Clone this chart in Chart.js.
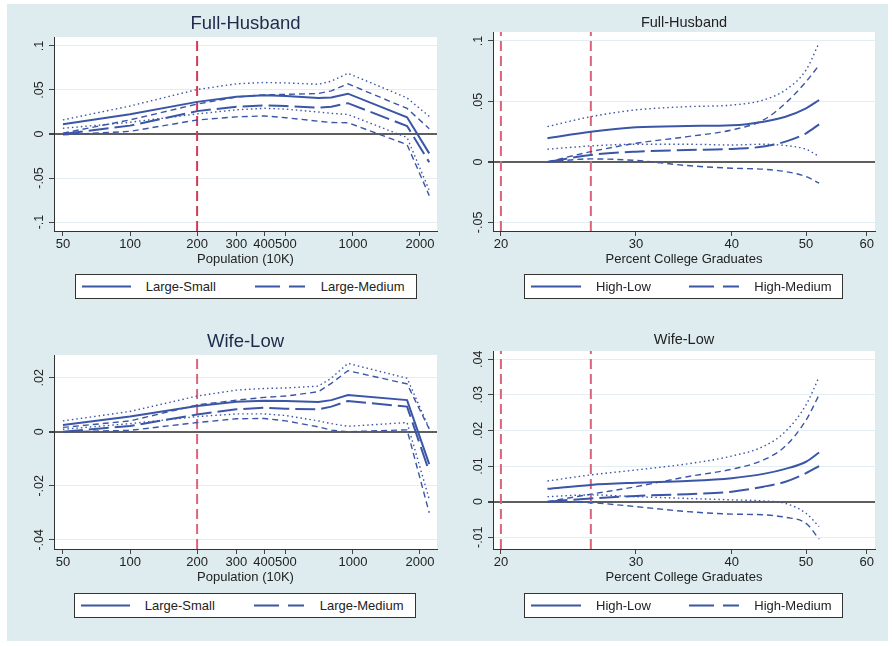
<!DOCTYPE html>
<html lang="en">
<head>
<meta charset="UTF-8">
<title>Full-Husband / Wife-Low</title>
<script src="https://cdn.jsdelivr.net/npm/chart.js"></script>
<style>
  body { margin: 0; background: #fff; font-family: "Liberation Sans", Arial, sans-serif; }
  #frame { position: absolute; left: 7px; top: 4px; width: 881px; height: 637px; background: #dfecef; }
  canvas { position: absolute; }
  .legend { position: absolute; height: 23px; border: 1px solid #333; background: #fff; font-size: 13px; color: #222; }
  .legend svg, .legend span { position: absolute; top: 0; }
  .legend span { line-height: 23px; white-space: nowrap; }
</style>
</head>
<body>
<div id="frame"></div>
<canvas id="tl" width="440" height="306" style="left:7px;top:4px"></canvas>
<canvas id="tr" width="440" height="306" style="left:447px;top:4px"></canvas>
<canvas id="bl" width="440" height="321" style="left:7px;top:320px"></canvas>
<canvas id="br" width="440" height="321" style="left:447px;top:320px"></canvas>

<script>
// x values (population in 10K, log axis) and percent college graduates (log axis)
const popX = [50, 100, 200, 300, 400, 500, 700, 800, 950, 1750, 2200];
const popTicks = [50, 100, 200, 300, 400, 500, 1000, 2000];
const popCut = [200];
const gradX = [23, 26.2, 30, 35, 40, 44, 47, 50, 52];
const gradTicks = [20, 30, 40, 50, 60];
const gradCut = [20, 26.2];

const popLegend = ['Large-Small', 'Large-Medium'];
const gradLegend = ['High-Low', 'High-Medium'];

// Full-Husband, by population
const fhLS   = [0.011, 0.0224, 0.0365, 0.0424, 0.0440, 0.0432, 0.0408, 0.0415, 0.0458, 0.019, -0.022];
const fhLM   = [0.000, 0.0095, 0.0260, 0.0310, 0.0325, 0.0318, 0.0300, 0.0310, 0.0350, 0.009, -0.032];
const fhLSup = [0.016, 0.0318, 0.0505, 0.0570, 0.0585, 0.0580, 0.0565, 0.0600, 0.0690, 0.041, 0.020];
const fhLSlo = [0.0065, 0.0133, 0.0228, 0.0275, 0.0292, 0.0282, 0.0250, 0.0235, 0.0222, -0.004, -0.064];
const fhLMup = [0.001, 0.0160, 0.0340, 0.0420, 0.0445, 0.0450, 0.0460, 0.0490, 0.0570, 0.029, 0.006];
const fhLMlo = [-0.001, 0.0030, 0.0159, 0.0195, 0.0205, 0.0185, 0.0145, 0.0130, 0.0128, -0.012, -0.070];

// Wife-Low, by population
const wlLS   = [0.0025, 0.0056, 0.0095, 0.0111, 0.0115, 0.0114, 0.0110, 0.0117, 0.0136, 0.0117, -0.012];
const wlLM   = [0.000, 0.0021, 0.0064, 0.0083, 0.0089, 0.0085, 0.0083, 0.0093, 0.0114, 0.0093, -0.0148];
const wlLSup = [0.004, 0.0075, 0.0132, 0.0154, 0.0160, 0.0162, 0.0169, 0.0198, 0.0253, 0.0198, 0.0012];
const wlLSlo = [0.0009, 0.0030, 0.0056, 0.0066, 0.0066, 0.0060, 0.0040, 0.0030, 0.0020, 0.0034, -0.025];
const wlLMup = [0.0016, 0.0040, 0.0099, 0.0117, 0.0127, 0.0132, 0.0148, 0.0179, 0.0226, 0.0177, 0.001];
const wlLMlo = [0.000, 0.0005, 0.0034, 0.0048, 0.0049, 0.0040, 0.0018, 0.0006, 0.0000, 0.0007, -0.030];

// Full-Husband, by percent college graduates
const fhHL   = [0.0196, 0.0250, 0.0287, 0.0297, 0.0303, 0.0333, 0.0374, 0.0443, 0.0512];
const fhHM   = [0.0000, 0.0058, 0.0085, 0.0099, 0.0107, 0.0127, 0.0168, 0.0237, 0.0311];
const fhHLup = [0.0292, 0.0374, 0.0430, 0.0457, 0.0470, 0.0512, 0.0595, 0.0760, 0.0985];
const fhHLlo = [0.0105, 0.0132, 0.0146, 0.0146, 0.0140, 0.0146, 0.0135, 0.0105, 0.0045];
const fhHMup = [0.0000, 0.0085, 0.0154, 0.0209, 0.0264, 0.0347, 0.0485, 0.0663, 0.0800];
const fhHMlo = [0.0000, 0.0025, 0.0012, -0.0030, -0.0052, -0.0060, -0.0080, -0.0121, -0.0175];

// Wife-Low, by percent college graduates
const wlHL   = [0.0036, 0.0047, 0.0053, 0.0058, 0.0066, 0.0078, 0.0092, 0.0112, 0.0138];
const wlHM   = [0.0000, 0.0009, 0.0016, 0.0021, 0.0028, 0.0042, 0.0056, 0.0080, 0.0100];
const wlHLup = [0.0058, 0.0075, 0.0089, 0.0106, 0.0128, 0.0155, 0.0197, 0.0272, 0.0350];
const wlHLlo = [0.0014, 0.0019, 0.0014, 0.0009, 0.0005, 0.0002, -0.0005, -0.0033, -0.0070];
const wlHMup = [0.0000, 0.0021, 0.0042, 0.0070, 0.0091, 0.0117, 0.0156, 0.0229, 0.0300];
const wlHMlo = [0.0000, -0.0003, -0.0014, -0.0028, -0.0035, -0.0037, -0.0044, -0.0061, -0.0105];

// y tick values per panel
const fhPopY = [-0.1, -0.05, 0, 0.05, 0.1];
const fhGradY = [-0.05, 0, 0.05, 0.1];
const wlPopY = [-0.04, -0.02, 0, 0.02];
const wlGradY = [-0.01, 0, 0.01, 0.02, 0.03, 0.04];

const BLUE = '#3b56a6';
const FONT = '"Liberation Sans", Arial, sans-serif';
// main lines, then their bands: solid, long dash, dotted pair, short-dash pair
const STYLES = [
  { w: 2, dash: [] },
  { w: 2, dash: [20, 6] },
  { w: 1.4, dash: [1.5, 3] },
  { w: 1.4, dash: [1.5, 3] },
  { w: 1.4, dash: [6, 4] },
  { w: 1.4, dash: [6, 4] }
];

const panels = [
  { id: 'tl', title: 'Full-Husband', tSize: 18.5, tColor: '#1d2b4b', tPad: 2.3,
    x: popX, xTicks: popTicks, xMin: 45.6, xMax: 2384, xTitle: 'Population (10K)', cut: popCut, cutColor: '#d23a55',
    yTicks: fhPopY, yMin: -0.1102, yMax: 0.1102, ys: [fhLS, fhLM, fhLSup, fhLSlo, fhLMup, fhLMlo],
    smooth: false, yWidth: 47, pad: { left: 0, right: 10, top: 8.5, bottom: 39 } },
  { id: 'tr', title: 'Full-Husband', tSize: 14.5, tColor: '#222', tPad: 0.8,
    x: gradX, xTicks: gradTicks, xMin: 19.53, xMax: 61.5, xTitle: 'Percent College Graduates', cut: gradCut, cutColor: '#dc6479',
    yTicks: fhGradY, yMin: -0.0571, yMax: 0.1074, ys: [fhHL, fhHM, fhHLup, fhHLlo, fhHMup, fhHMlo],
    smooth: true, yWidth: 46, pad: { left: 0, right: 12, top: 9.8, bottom: 39 } },
  { id: 'bl', title: 'Wife-Low', tSize: 18.5, tColor: '#1d2b4b', tPad: 1.9,
    x: popX, xTicks: popTicks, xMin: 45.6, xMax: 2384, xTitle: 'Population (10K)', cut: popCut, cutColor: '#dc6479',
    yTicks: wlPopY, yMin: -0.0434, yMax: 0.0284, ys: [wlLS, wlLM, wlLSup, wlLSlo, wlLMup, wlLMlo],
    smooth: false, yWidth: 47, pad: { left: 0, right: 10, top: 10.9, bottom: 52 } },
  { id: 'br', title: 'Wife-Low', tSize: 14.5, tColor: '#222', tPad: 2.3,
    x: gradX, xTicks: gradTicks, xMin: 19.53, xMax: 61.5, xTitle: 'Percent College Graduates', cut: gradCut, cutColor: '#dc6479',
    yTicks: wlGradY, yMin: -0.0133, yMax: 0.0423, ys: [wlHL, wlHM, wlHLup, wlHLlo, wlHMup, wlHMlo],
    smooth: true, yWidth: 46, pad: { left: 0, right: 12, top: 11.3, bottom: 52 } }
];

function stataNum(v) {
  if (Math.abs(v) < 1e-9) return '0';
  return String(+v.toFixed(4)).replace(/^(-?)0\./, '$1.');
}

const plotBg = {
  id: 'plotBg',
  beforeDraw(chart) {
    const { ctx, chartArea: a } = chart;
    ctx.save();
    ctx.fillStyle = '#fff';
    ctx.fillRect(a.left, a.top, a.right - a.left, a.bottom - a.top);
    ctx.restore();
  }
};

panels.forEach(p => {
  const datasets = p.ys.map((ys, i) => ({
    data: p.x.map((x, j) => ({ x: x, y: ys[j] })),
    borderColor: BLUE,
    borderWidth: STYLES[i].w,
    borderDash: STYLES[i].dash,
    pointRadius: 0,
    fill: false,
    cubicInterpolationMode: p.smooth ? 'monotone' : 'default',
    tension: 0
  }));
  // vertical reference lines, drawn underneath the curves
  p.cut.forEach(c => datasets.push({
    data: [{ x: c, y: p.yMin }, { x: c, y: p.yMax }],
    borderColor: p.cutColor,
    borderWidth: 2,
    borderDash: [10, 5],
    pointRadius: 0,
    fill: false
  }));

  new Chart(document.getElementById(p.id), {
    type: 'line',
    data: { datasets: datasets },
    plugins: [plotBg],
    options: {
      responsive: false,
      animation: false,
      layout: { padding: p.pad },
      plugins: {
        legend: { display: false },
        tooltip: { enabled: false },
        title: {
          display: true, text: p.title, fullSize: false, color: p.tColor,
          font: { family: FONT, size: p.tSize, weight: 'normal' },
          padding: { top: 0, bottom: p.tPad }
        }
      },
      scales: {
        x: {
          type: 'logarithmic', min: p.xMin, max: p.xMax,
          afterBuildTicks: s => { s.ticks = p.xTicks.map(v => ({ value: v })); },
          afterFit: s => { s.height = 40; },
          ticks: { autoSkip: false, maxRotation: 0, padding: 1, color: '#222',
                   font: { family: FONT, size: 13 }, callback: v => String(v) },
          grid: { drawOnChartArea: false, tickLength: 5, tickColor: '#444' },
          border: { color: '#333', width: 1 },
          title: { display: true, text: p.xTitle, color: '#222',
                   font: { family: FONT, size: 13 }, padding: { top: 0, bottom: 4 } }
        },
        y: {
          type: 'linear', min: p.yMin, max: p.yMax,
          afterBuildTicks: s => { s.ticks = p.yTicks.map(v => ({ value: v })); },
          afterFit: s => { s.width = p.yWidth; },
          ticks: { minRotation: 90, maxRotation: 90, crossAlign: 'center', padding: -1.7,
                   color: '#222', font: { family: FONT, size: 12.5 }, callback: v => stataNum(v) },
          grid: {
            color: c => (c.tick && Math.abs(c.tick.value) < 1e-9) ? '#5f5f5f' : '#e2eef2',
            lineWidth: c => (c.tick && Math.abs(c.tick.value) < 1e-9) ? 2 : 1,
            tickColor: '#444', tickLength: 5
          },
          border: { color: '#333', width: 1 }
        }
      }
    }
  });
});

// legends: solid and long-dash samples with labels inside a framed box
const legends = [
  { left: 75, top: 274, width: 342, labels: popLegend, samples: [[6.7, 49], [180, 50]], text: [70.7, 245.7] },
  { left: 524, top: 274, width: 319, labels: gradLegend, samples: [[7, 50], [164.7, 50.6]], text: [72, 230.3] },
  { left: 74, top: 593, width: 342, labels: popLegend, samples: [[6.7, 49], [180, 50]], text: [70.7, 245.7] },
  { left: 524, top: 593, width: 319, labels: gradLegend, samples: [[7, 50], [164.7, 50.6]], text: [72, 230.3] }
];
legends.forEach(l => {
  const box = document.createElement('div');
  box.className = 'legend';
  box.style.left = l.left + 'px';
  box.style.top = l.top + 'px';
  box.style.width = (l.width - 2) + 'px';
  let html = '';
  l.labels.forEach((lab, i) => {
    const [sx, sw] = l.samples[i];
    const dash = i === 0 ? '' : ' stroke-dasharray="25 9"';
    html += '<svg style="left:' + (sx - 1) + 'px" width="' + sw + '" height="23">' +
            '<line x1="0" y1="11.5" x2="' + sw + '" y2="11.5" stroke="' + BLUE + '" stroke-width="2"' + dash + '/></svg>';
    html += '<span style="left:' + (l.text[i] - 1) + 'px">' + lab + '</span>';
  });
  box.innerHTML = html;
  document.body.appendChild(box);
});
</script>
</body>
</html>
